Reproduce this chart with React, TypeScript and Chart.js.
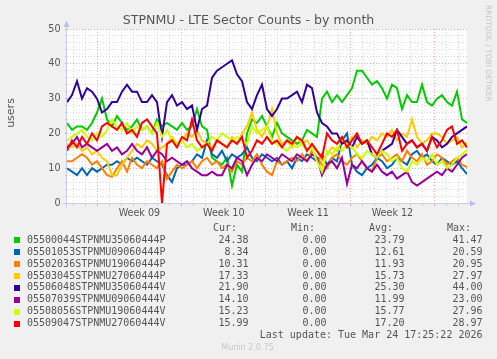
import React, { useEffect, useRef } from 'react';
import { Chart, registerables } from 'chart.js';

Chart.register(...registerables);

// ---------- text ----------
const TITLE = 'STPNMU - LTE Sector Counts - by month';
const Y_LABEL = 'users';
const WATERMARK = 'RRDTOOL / TOBI OETIKER';
const LAST_UPDATE = 'Last update: Tue Mar 24 17:25:22 2026';
const FOOTER = 'Munin 2.0.75';

// ---------- axes ----------
const DAYS_SHOWN = 33.2; // width of the month graph, in days
const FIRST_WEEK_START = 2.51; // days from left edge to Monday of week 09
const WEEK_LABELS = ['Week 09', 'Week 10', 'Week 11', 'Week 12'];
const Y_MIN = 0;
const Y_MAX = 50;
const Y_MINOR_STEP = 2;
const Y_MAJOR_STEP = 10;

// ---------- series ----------
const SERIES_NAMES = [
  '05500044STPNMU35060444P',
  '05501053STPNMU09060444P',
  '05502036STPNMU19060444P',
  '05503045STPNMU27060444P',
  '05506048STPNMU35060444V',
  '05507039STPNMU09060444V',
  '05508056STPNMU19060444V',
  '05509047STPNMU27060444V',
];
const SERIES_COLORS = ['#00cc00', '#0066b3', '#ff8000', '#ffcc00', '#330099', '#990099', '#ccff00', '#ff0000'];

const green35P = [23, 21, 22, 22, 21, 23, 26, 30, 24, 22, 25, 23, 21, 22, 24, 21, 22, 20, 24, 22, 23, 22, 21, 23, 21, 22, 27, 22, 21, 13, 12, 11, 13, 5, 11, 9, 20, 24, 23, 25, 22, 19, 23, 20, 19, 18, 17, 18, 21, 20, 19, 30, 32, 29, 31, 29, 31, 33, 38, 38, 36, 34, 35, 33, 30, 34, 33, 27, 31, 29, 29, 34, 29, 28, 30, 31, 29, 28, 32, 24, 23];
const blue09P = [10, 9, 8, 10, 8, 10, 9, 10, 11, 11, 12, 11, 13, 12, 13, 12, 11, 13, 12, 11, 8, 6, 10, 11, 11, 12, 14, 13, 18, 14, 13, 15, 12, 14, 13, 14, 16, 13, 12, 14, 13, 12, 13, 11, 12, 10, 13, 12, 14, 13, 12, 14, 11, 13, 12, 18, 20, 11, 9, 8, 10, 11, 13, 12, 10, 11, 13, 12, 11, 14, 15, 13, 14, 12, 11, 13, 12, 11, 12, 10, 8.3];
const orange19P = [12, 12, 13, 14, 13, 11, 12, 10, 8, 7.5, 10, 12, 9, 13, 11, 10, 12, 11, 10, 12, 7, 9, 11, 10, 11, 12, 10, 12, 13, 11, 12, 10, 11, 9, 12, 11, 13, 12, 14, 11, 9, 8, 12, 11, 12, 13, 12, 14, 12, 15, 13, 11, 10, 13, 14, 12, 11, 13, 14, 12, 10, 9, 13, 14, 12, 13, 14, 12, 15, 13, 12, 14, 11, 12, 14, 13, 11, 12, 13, 11, 10.3];
const gold27P = [17, 16, 17, 15, 16, 14, 15, 13, 12, 8, 8, 11, 13, 15, 17, 16, 18, 17, 15, 16, 17, 19, 17, 18, 20, 19, 21, 18, 17, 16, 18, 17, 16, 19, 17, 20, 22, 26, 21, 19, 22, 27, 20, 17, 18, 16, 19, 17, 18, 16, 15, 12, 14, 16, 15, 18, 17, 19, 16, 18, 17, 19, 18, 20, 19, 21, 18, 20, 19, 24, 19, 17, 18, 20, 20, 19, 17, 18, 19, 16, 17.3];
const indigo35V = [29, 31, 35, 30, 33, 32, 30, 26, 27, 29, 29, 32, 34, 32, 32, 29, 29, 31, 29, 19, 29, 31, 28, 29, 27, 28, 21, 27, 28, 36, 38, 39, 40, 41, 37, 35, 29, 27, 31, 34, 27, 25, 27, 30, 30, 31, 32, 29, 34, 33, 26, 23, 22, 20, 20, 17, 18, 16, 19, 17, 18, 14, 13, 15, 16, 17, 21, 19, 17, 18, 16, 17, 15, 19, 18, 16, 17, 19, 20, 21, 22];
const purple09V = [16, 17, 19, 16, 17, 16, 15, 16, 17, 15, 16, 14, 15, 17, 15, 14, 16, 13, 15, 14, 12, 13, 12, 11, 12, 10, 9, 8, 8, 9, 8, 8, 11, 10, 13, 12, 8, 11, 13, 12, 14, 13, 12, 14, 13, 12, 14, 13, 12, 14, 13, 8, 11, 12, 10, 13, 5.5, 11, 10, 12, 10, 9, 11, 9, 8, 9, 7, 8, 9, 6, 5, 6, 7, 8, 9, 8, 10, 9, 11, 13, 14.1];
const lime19V = [18, 19, 20, 21, 19, 18, 20, 19, 21, 24, 22, 21, 23, 20, 22, 21, 22, 20, 23, 19, 21, 18, 17, 18, 16, 17, 15, 16, 17, 19, 18, 20, 19, 18, 19, 18, 17, 22, 20, 21, 22, 18, 17, 16, 15, 17, 16, 17, 15, 16, 12, 9, 15, 14, 16, 15, 17, 16, 14, 13, 15, 14, 13, 15, 14, 12, 13, 10, 9, 12, 11, 13, 12, 14, 11, 12, 10, 11, 13, 14, 15.2];
const red27V = [15, 18, 16, 19, 17, 20, 18, 22, 23, 22, 21, 23, 20, 21, 19, 23, 24, 22, 20, 0, 17, 18, 16, 19, 18, 24, 18, 16, 17, 15, 18, 17, 16, 18, 17, 19, 13, 15, 18, 17, 19, 17, 18, 16, 18, 17, 19, 18, 15, 17, 15, 13, 20, 18, 17, 19, 16, 18, 20, 17, 18, 16, 14, 17, 20, 19, 21, 15, 17, 18, 16, 17, 15, 19, 16, 18, 21, 22, 17, 18, 16];

const SERIES_VALUES = [green35P, blue09P, orange19P, gold27P, indigo35V, purple09V, lime19V, red27V];

// legend statistics (as printed by munin)
const CUR_VALUES = ['24.38', '8.34', '10.31', '17.33', '21.90', '14.10', '15.23', '15.99'];
const MIN_VALUES = ['0.00', '0.00', '0.00', '0.00', '0.00', '0.00', '0.00', '0.00'];
const AVG_VALUES = ['23.79', '12.61', '11.93', '15.73', '25.30', '11.99', '15.77', '17.20'];
const MAX_VALUES = ['41.47', '20.59', '20.95', '27.97', '44.00', '23.00', '27.96', '28.97'];

// ---------- style ----------
const BG = '#f0f0f0';
const TEXT = '#555555';
const MINOR_GRID = 'rgba(185,185,185,0.55)';
const MAJOR_GRID = 'rgba(235,110,110,0.6)';
const AXIS = '#c8cce8';
const ARROW = '#b4c0f0';
const SANS = '"DejaVu Sans", sans-serif';
const MONO = '"DejaVu Sans Mono", monospace';

const near = (a: number, b: number) => Math.abs(a - b) < 1e-6;

const munin = {
  id: 'muninDecor',
  beforeDraw(chart: any) {
    const { ctx, width, height, chartArea } = chart;
    ctx.save();
    ctx.fillStyle = BG;
    ctx.fillRect(0, 0, width, height);
    ctx.fillStyle = '#ffffff';
    ctx.fillRect(chartArea.left, chartArea.top, chartArea.right - chartArea.left, chartArea.bottom - chartArea.top);
    ctx.restore();
  },
  afterDraw(chart: any) {
    const { ctx, chartArea } = chart;
    const L = chartArea.left - 0.5;
    const B = chartArea.bottom + 0.5;
    const T = chartArea.top;
    const R = chartArea.right;
    ctx.save();
    // axes
    ctx.strokeStyle = AXIS;
    ctx.lineWidth = 1;
    ctx.beginPath();
    ctx.moveTo(L, B + 4);
    ctx.lineTo(L, T - 3);
    ctx.moveTo(L - 4, B);
    ctx.lineTo(R + 3, B);
    ctx.stroke();
    ctx.fillStyle = ARROW;
    ctx.beginPath();
    ctx.moveTo(L, T - 8);
    ctx.lineTo(L - 3, T - 2);
    ctx.lineTo(L + 3, T - 2);
    ctx.closePath();
    ctx.fill();
    ctx.beginPath();
    ctx.moveTo(R + 9, B);
    ctx.lineTo(R + 3, B - 3);
    ctx.lineTo(R + 3, B + 3);
    ctx.closePath();
    ctx.fill();

    // title
    ctx.fillStyle = TEXT;
    ctx.font = `12.6px ${SANS}`;
    ctx.textAlign = 'center';
    ctx.textBaseline = 'alphabetic';
    ctx.fillText(TITLE, 248.5, 24.3);

    // y label
    ctx.save();
    ctx.translate(11, (T + chartArea.bottom) / 2 - 3);
    ctx.rotate(-Math.PI / 2);
    ctx.font = `11px ${SANS}`;
    ctx.textAlign = 'center';
    ctx.textBaseline = 'middle';
    ctx.fillText(Y_LABEL, 0, 0);
    ctx.restore();

    // watermark
    ctx.save();
    ctx.translate(488, 5);
    ctx.rotate(Math.PI / 2);
    ctx.font = `7.5px ${SANS}`;
    ctx.fillStyle = '#c4c4c4';
    ctx.textAlign = 'left';
    ctx.textBaseline = 'middle';
    ctx.fillText(WATERMARK, 0, 0);
    ctx.restore();

    // legend
    ctx.font = `10px ${MONO}`;
    ctx.fillStyle = TEXT;
    ctx.textBaseline = 'middle';
    ctx.textAlign = 'left';
    const headerY = 228.5;
    ctx.fillText('Cur:', 213, headerY);
    ctx.fillText('Min:', 291, headerY);
    ctx.fillText('Avg:', 369, headerY);
    ctx.fillText('Max:', 447, headerY);
    for (let i = 0; i < SERIES_NAMES.length; i++) {
      const y = 240.3 + i * 11.9;
      ctx.fillStyle = SERIES_COLORS[i];
      ctx.fillRect(14, Math.round(y) - 3, 6, 6);
      ctx.fillStyle = TEXT;
      ctx.textAlign = 'left';
      ctx.fillText(SERIES_NAMES[i], 27, y);
      ctx.textAlign = 'right';
      ctx.fillText(CUR_VALUES[i], 248.5, y);
      ctx.fillText(MIN_VALUES[i], 326.5, y);
      ctx.fillText(AVG_VALUES[i], 404.5, y);
      ctx.fillText(MAX_VALUES[i], 482.5, y);
    }
    ctx.textAlign = 'right';
    ctx.fillText(LAST_UPDATE, 482.5, 335.3);

    ctx.font = `8px ${SANS}`;
    ctx.fillStyle = '#c8c8c8';
    ctx.textAlign = 'center';
    ctx.fillText(FOOTER, 247.5, 348);
    ctx.restore();
  },
};

function xTickValues(): number[] {
  const out: number[] = [];
  for (let k = -10; k <= 80; k++) {
    const v = FIRST_WEEK_START + k / 2;
    if (v > 0.01 && v < DAYS_SHOWN - 0.01) out.push(v);
  }
  return out;
}

function yTickValues(): number[] {
  const out: number[] = [];
  for (let v = Y_MIN; v <= Y_MAX; v += Y_MINOR_STEP) out.push(v);
  return out;
}

function xKind(v: number): 'week' | 'day' | 'mid' | 'half' {
  const d = v - FIRST_WEEK_START;
  const m7 = ((d % 7) + 7) % 7;
  if (near(m7, 0) || near(m7, 7)) return 'week';
  if (near(m7, 3.5)) return 'mid';
  if (near(d - Math.round(d), 0)) return 'day';
  return 'half';
}

export default function App() {
  const ref = useRef<HTMLCanvasElement | null>(null);

  useEffect(() => {
    if (!ref.current) return;
    const step = DAYS_SHOWN / (SERIES_VALUES[0].length - 1);
    const datasets = SERIES_VALUES.map((vals, i) => ({
      label: SERIES_NAMES[i],
      data: vals.map((y, j) => ({ x: j * step, y })),
      borderColor: SERIES_COLORS[i],
      backgroundColor: SERIES_COLORS[i],
      borderWidth: 2,
      pointRadius: 0,
      tension: 0,
      fill: false,
      order: -i,
    }));

    const gridColor = (kind: string) => (kind === 'week' ? MAJOR_GRID : kind === 'day' ? MINOR_GRID : 'transparent');

    const chart = new Chart(ref.current, {
      type: 'line',
      data: { datasets },
      plugins: [munin],
      options: {
        animation: false,
        responsive: false,
        maintainAspectRatio: false,
        devicePixelRatio: 1,
        layout: { padding: { left: 0, top: 29, right: 30, bottom: 136 } },
        plugins: { legend: { display: false }, tooltip: { enabled: false }, title: { display: false } },
        scales: {
          x: {
            type: 'linear',
            min: 0,
            max: DAYS_SHOWN,
            afterFit: (s: any) => {
              s.height = 20;
            },
            afterBuildTicks: (s: any) => {
              s.ticks = xTickValues().map((value) => ({ value }));
            },
            ticks: {
              autoSkip: false,
              maxRotation: 0,
              minRotation: 0,
              padding: 1.5,
              color: TEXT,
              font: { family: SANS, size: 9.6 },
              callback: (value: any) => {
                const v = Number(value);
                if (xKind(v) !== 'mid') return '';
                const w = Math.floor((v - FIRST_WEEK_START) / 7);
                return WEEK_LABELS[w] ?? '';
              },
            },
            grid: {
              drawOnChartArea: true,
              drawTicks: true,
              tickLength: 3,
              lineWidth: 1,
              color: (c: any) => (c.tick ? gridColor(xKind(c.tick.value)) : 'transparent'),
              tickColor: (c: any) => (c.tick ? gridColor(xKind(c.tick.value)) : 'transparent'),
              tickBorderDash: [],
            },
            border: { display: false, dash: [1, 2] },
          },
          y: {
            type: 'linear',
            min: Y_MIN,
            max: Y_MAX,
            afterFit: (s: any) => {
              s.width = 67;
            },
            afterBuildTicks: (s: any) => {
              s.ticks = yTickValues().map((value) => ({ value }));
            },
            ticks: {
              autoSkip: false,
              padding: 4.5,
              color: TEXT,
              font: { family: SANS, size: 9.6 },
              callback: (value: any) => (Number(value) % Y_MAJOR_STEP === 0 ? String(value) : ''),
            },
            grid: {
              drawTicks: true,
              tickLength: 2,
              lineWidth: 1,
              color: (c: any) => {
                if (!c.tick) return 'transparent';
                const v = c.tick.value;
                if (v === Y_MIN) return 'transparent';
                return v % Y_MAJOR_STEP === 0 ? MAJOR_GRID : MINOR_GRID;
              },
              tickColor: (c: any) => {
                if (!c.tick) return 'transparent';
                const v = c.tick.value;
                return v % Y_MAJOR_STEP === 0 ? MAJOR_GRID : MINOR_GRID;
              },
              tickBorderDash: [],
            },
            border: { display: false, dash: [1, 2] },
          },
        },
      } as any,
    });
    return () => chart.destroy();
  }, []);

  return (
    <div style={{ position: 'absolute', left: 0, top: 0, width: 497, height: 359 }}>
      <canvas ref={ref} width={497} height={359} style={{ display: 'block', width: 497, height: 359 }} />
    </div>
  );
}
